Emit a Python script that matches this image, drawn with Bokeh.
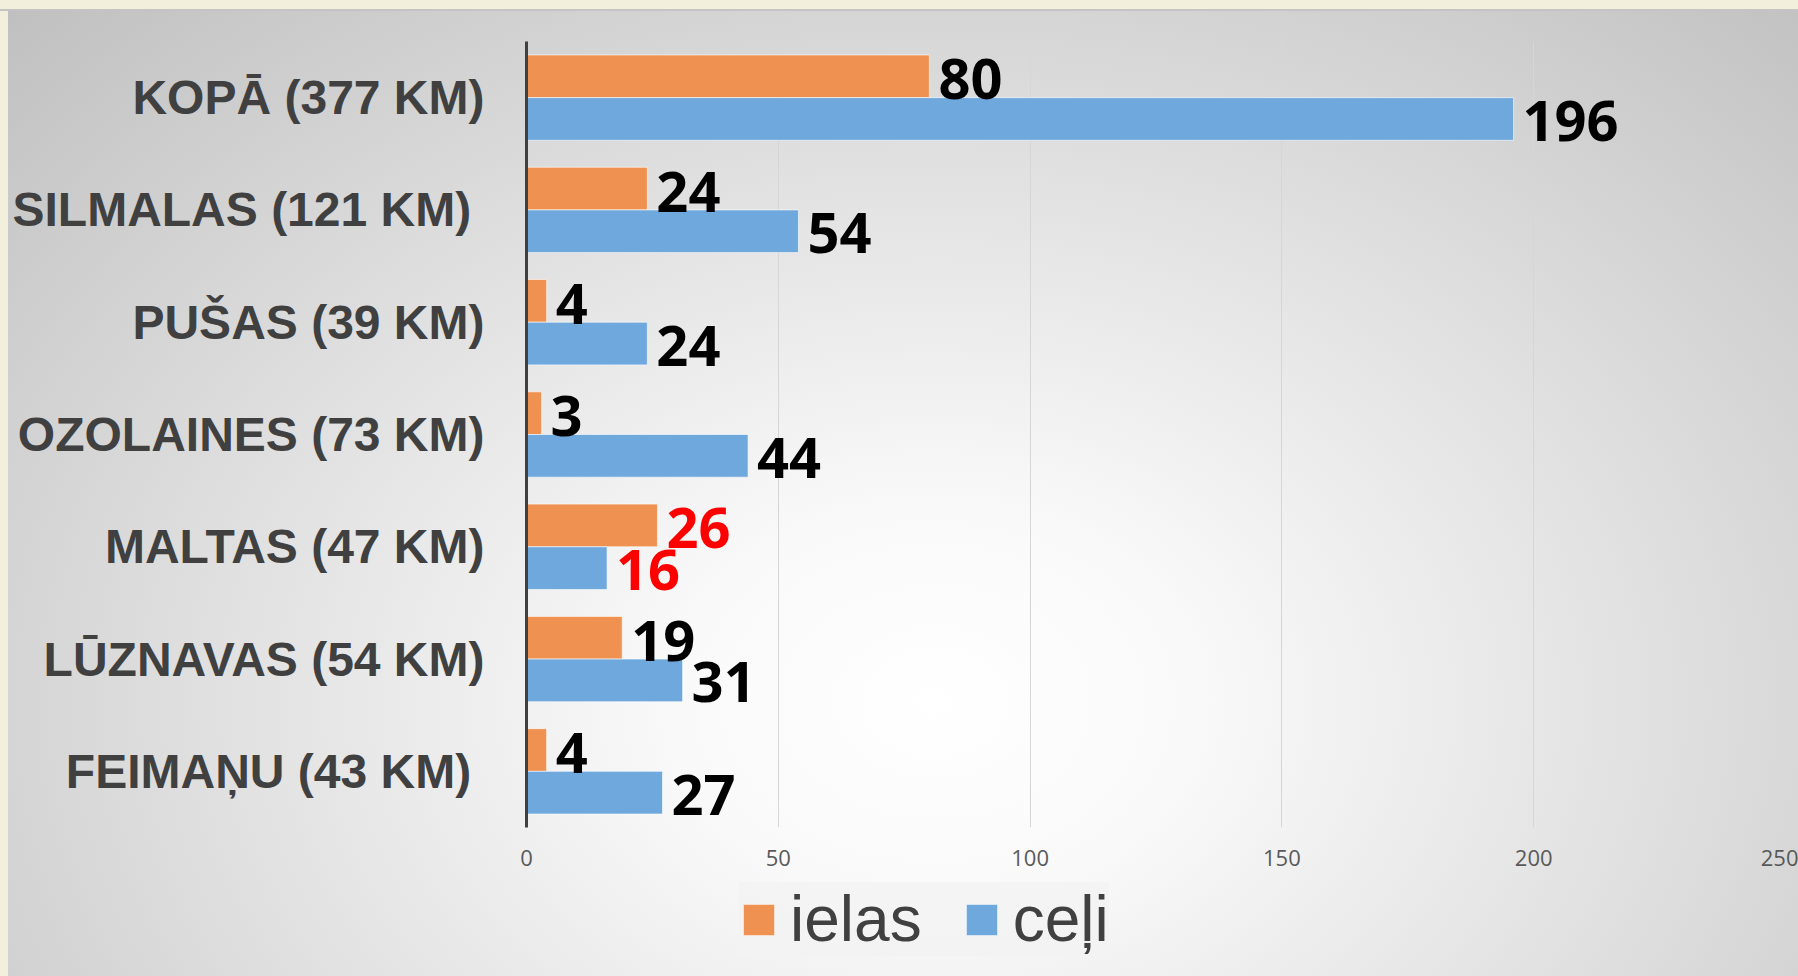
from bokeh.plotting import figure
from bokeh.layouts import column
from bokeh.models import (ColumnDataSource, FactorRange, Range1d, FixedTicker,
                          Legend, LegendItem)
from bokeh.transform import dodge
from bokeh.core.properties import value
from bokeh.embed import file_html
from bokeh.resources import INLINE

# ---- data (top to bottom as in the chart) ----
categories = ["KOPĀ (377 KM)", "SILMALAS (121 KM)\u00a0", "PUŠAS (39 KM)",
              "OZOLAINES (73 KM)", "MALTAS (47 KM)", "LŪZNAVAS (54 KM)",
              "FEIMAŅU (43 KM)\u00a0"]
ielas = [80, 24, 4, 3, 26, 19, 4]
celi = [196, 54, 24, 44, 16, 31, 27]
label_colors = ["black", "black", "black", "black", "red", "black", "black"]
series_names = ["ielas", "ceļi"]
x_ticks = [0, 50, 100, 150, 200, 250]

ORANGE = "#EF9150"
BLUE = "#6FA8DC"

source = ColumnDataSource(dict(
    cat=categories,
    ielas=ielas,
    celi=celi,
    ielas_txt=[str(v) for v in ielas],
    celi_txt=[str(v) for v in celi],
    lab_color=label_colors,
))

p = figure(width=1798, height=880, output_backend="svg", toolbar_location=None,
           y_range=FactorRange(*list(reversed(categories))),
           x_range=Range1d(0, 250),
           min_border_left=526, min_border_right=13,
           min_border_top=41, min_border_bottom=53)
p.background_fill_alpha = 0
p.border_fill_alpha = 0
p.outline_line_color = None

BH = 0.38
OFF = 0.19
r1 = p.hbar(y=dodge("cat", OFF, range=p.y_range), right="ielas", left=0, height=BH,
            source=source, fill_color=ORANGE, line_color="white", line_alpha=0.6,
            line_width=1)
r2 = p.hbar(y=dodge("cat", -OFF, range=p.y_range), right="celi", left=0, height=BH,
            source=source, fill_color=BLUE, line_color="white", line_alpha=0.6,
            line_width=1)

p.text(x="ielas", y=dodge("cat", OFF, range=p.y_range), text="ielas_txt",
       source=source, x_offset=9, y_offset=3, text_baseline="middle", text_align="left",
       text_font=value("Open Sans"), text_font_style="bold", text_font_size="56px",
       text_color="lab_color")
p.text(x="celi", y=dodge("cat", -OFF, range=p.y_range), text="celi_txt",
       source=source, x_offset=9, y_offset=2, text_baseline="middle", text_align="left",
       text_font=value("Open Sans"), text_font_style="bold", text_font_size="56px",
       text_color="lab_color")

# axes
p.xaxis.ticker = FixedTicker(ticks=x_ticks)
p.xaxis.axis_line_color = None
p.xaxis.major_tick_line_color = None
p.xaxis.minor_tick_line_color = None
p.xaxis.major_label_text_font = "Open Sans"
p.xaxis.major_label_text_font_size = "22px"
p.xaxis.major_label_text_color = "#595959"
p.xaxis.major_label_standoff = 16

p.yaxis.axis_line_color = "#404040"
p.yaxis.axis_line_width = 3
p.yaxis.major_tick_line_color = None
p.yaxis.minor_tick_line_color = None
p.yaxis.major_label_text_font = "Liberation Sans"
p.yaxis.major_label_text_font_style = "bold"
p.yaxis.major_label_text_font_size = "48px"
p.yaxis.major_label_text_color = "#404040"
p.yaxis.major_label_standoff = 36

p.xgrid.grid_line_color = "#d6d6d6"
p.xgrid.grid_line_width = 1
p.ygrid.grid_line_color = None

# ---- legend strip below the chart (key renderers lie outside its visible range) ----
lg = figure(width=1798, height=96, output_backend="svg", toolbar_location=None,
            x_range=Range1d(0, 1), y_range=Range1d(0, 1),
            x_axis_type=None, y_axis_type=None,
            min_border_left=526, min_border_right=13, min_border_top=0, min_border_bottom=0)
lg.background_fill_alpha = 0
lg.border_fill_alpha = 0
lg.outline_line_color = None
lg.grid.visible = False
k1 = lg.hbar(y="ielas", right="ielas", left="ielas", height=0, source=source,
             fill_color=ORANGE, line_color="white", line_alpha=0.6)
k2 = lg.hbar(y="celi", right="celi", left="celi", height=0, source=source,
             fill_color=BLUE, line_color="white", line_alpha=0.6)

legend = Legend(items=[LegendItem(label=series_names[0], renderers=[k1]),
                       LegendItem(label=series_names[1], renderers=[k2])],
                orientation="horizontal", location=(213, 20))
legend.glyph_width = 39
legend.glyph_height = 39
legend.label_text_font = "Liberation Sans"
legend.label_text_font_size = "64px"
legend.label_text_color = "#404040"
legend.label_standoff = 12
legend.spacing = 40
legend.padding = 9
legend.margin = 0
legend.background_fill_color = "#f3f3f3"
legend.background_fill_alpha = 0.8
legend.border_line_color = None
lg.add_layout(legend, "center")

page = column(p, lg, spacing=0)
page.styles = {"background": (
    "linear-gradient(#F2F0DC, #F2F0DC) 0 0 / 100% 9px no-repeat, "
    "linear-gradient(#C4C4C4, #C4C4C4) 0 9px / 100% 2px no-repeat, "
    "linear-gradient(#F2F0DC, #F2F0DC) 0 0 / 8px 100% no-repeat, "
    "radial-gradient(ellipse farthest-corner at 52% 72%, "
    "#ffffff 0%, #f9f9f9 20%, #e0e0e0 55%, #bfbfbf 100%)")}

open("out.html", "w").write(file_html(page, INLINE))
